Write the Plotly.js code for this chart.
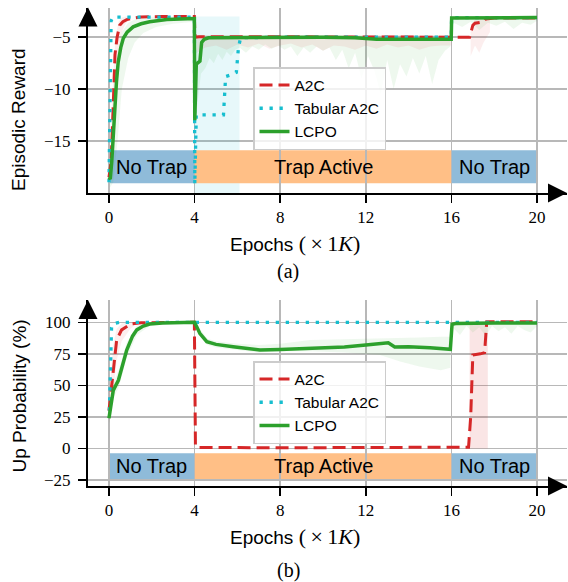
<!DOCTYPE html>
<html>
<head>
<meta charset="utf-8">
<script src="https://cdn.plot.ly/plotly-3.0.1.min.js"></script>
<style>html,body{margin:0;padding:0;background:#fff;}#chart{width:568px;height:582px;}</style>
</head>
<body>
<div id="chart"></div>
<script>
// ---------- phases ----------
const phaseStart = [0, 4, 16];
const phaseEnd = [4, 16, 20];
const phaseLabel = ['No Trap', 'Trap Active', 'No Trap'];

// ---------- (a) Episodic reward ----------
const a2cRX = [0, 0.1, 0.2, 0.28, 0.38, 0.5, 0.65, 0.83, 1.1, 1.5, 2.5, 3.99, 4.02, 4.2, 6, 8, 10, 11.5, 12, 14, 15.99, 16.85, 17.0, 17.1, 17.5, 17.6, 18, 20];
const a2cRY = [-18.5, -17, -11.5, -6.7, -5, -3.85, -3.5, -3.3, -3.15, -3.05, -3.0, -3.0, -5.0, -4.95, -4.95, -4.95, -4.95, -5.0, -4.95, -4.95, -4.95, -5.0, -3.85, -3.65, -3.5, -3.25, -3.15, -3.15];

const tabRX = [0, 0.06, 0.1, 0.2, 3.99, 4.01, 4.08, 5.35, 5.45, 5.75, 5.95, 6.05, 6.15, 8, 12, 15.99, 16.01, 20];
const tabRY = [-19, -5, -3.4, -3.05, -3.05, -19.2, -12.5, -12.5, -8.8, -8.6, -8.4, -6.0, -5.05, -5.0, -5.0, -5.0, -3.1, -3.1];

const lcpoRX = [0, 0.06, 0.13, 0.2, 0.28, 0.35, 0.43, 0.55, 0.67, 0.85, 1.13, 1.5, 1.9, 2.7, 3.99, 4.01, 4.08, 4.25, 4.33, 4.45, 4.65, 6, 8, 10, 11.5, 12.5, 14, 15.99, 16.01, 18, 20];
const lcpoRY = [-18.5, -18.7, -17, -14, -11.5, -9.3, -7.4, -6, -5.1, -4.5, -4.0, -3.7, -3.5, -3.3, -3.2, -13, -7.6, -7.3, -5.5, -5.2, -5.05, -5.02, -5.0, -5.0, -5.05, -5.2, -5.2, -5.2, -3.15, -3.1, -3.1];

// variability (shaded) in (a)
const lcpoR0X = [0.05, 0.2, 0.4, 0.6, 0.9, 1.2, 1.6, 2.2, 3.0, 4.0];
const lcpoR0Lo = [-19.5, -19, -15, -10, -7, -5.5, -4.6, -4.0, -3.7, -3.5];
const lcpoR0Hi = [-17, -12, -7, -4.5, -3.6, -3.3, -3.1, -3.0, -3.0, -3.0];
const a2cR0X = [0.05, 0.15, 0.3, 0.45, 0.6, 0.8, 1.0];
const a2cR0Lo = [-19, -17, -11, -6.5, -4.5, -3.6, -3.3];
const a2cR0Hi = [-17, -11, -5, -3.5, -3.1, -3.0, -3.0];
const tabRBandX = [4.0, 6.1];
const tabRBandLo = [-15.9, -15.9];
const tabRBandHi = [-3.0, -3.0];
const tabRBand2Lo = [-20.5, -20.5];
const tabRBand2Hi = [-19.1, -19.1];
const lcpoRMidX = [4.1, 4.3, 4.5, 4.7, 4.9, 5.1, 5.3, 5.5, 5.7, 5.9, 6.1, 6.4, 6.7, 7.0, 7.3, 7.6, 7.9, 8.2, 8.5, 8.8, 9.1, 9.4, 9.7, 10.0, 10.3, 10.6, 10.9, 11.2, 11.5, 11.8, 12.1, 12.4, 12.7, 13.0, 13.3, 13.6, 13.9, 14.2, 14.5, 14.8, 15.1, 15.4, 15.7, 15.95];
const lcpoRMidLo = [-12, -8.5, -8, -7, -7.5, -6.6, -7.2, -6.4, -6.8, -6.2, -6.0, -6.5, -5.9, -6.2, -5.7, -6.1, -5.8, -6.2, -5.9, -6.8, -6.0, -6.5, -5.9, -6.3, -6.0, -7.2, -6.2, -8.0, -6.5, -9.0, -6.8, -8.2, -10.5, -7.2, -10.0, -7.6, -8.8, -7.0, -8.5, -6.8, -9.5, -7.2, -6.3, -5.9];
const lcpoRMidHi = [-4.8, -4.8, -4.8, -4.8, -4.8, -4.8, -4.8, -4.8, -4.8, -4.8, -4.8, -4.8, -4.8, -4.8, -4.8, -4.8, -4.8, -4.8, -4.8, -4.8, -4.8, -4.8, -4.8, -4.8, -4.8, -4.8, -4.8, -4.8, -4.8, -4.8, -4.8, -4.8, -4.8, -4.8, -4.8, -4.8, -4.8, -4.8, -4.8, -4.8, -4.8, -4.8, -4.8, -4.8];
const a2cRMidX = [4.1, 4.5, 5, 5.5, 6, 6.5, 7, 7.5, 8, 8.5, 9, 9.5, 10, 10.5, 11, 11.5, 12, 12.5, 13, 13.5, 14, 14.5, 15, 15.5, 16];
const a2cRMidLo = [-6.5, -6, -5.8, -6.2, -5.7, -6, -5.6, -6.1, -5.8, -5.6, -6.0, -5.7, -6.3, -5.8, -5.9, -6.2, -5.8, -6.1, -5.7, -6, -5.8, -6.2, -5.9, -5.8, -5.8];
const a2cRMidHi = [-4.8, -4.8, -4.8, -4.8, -4.8, -4.8, -4.8, -4.8, -4.8, -4.8, -4.8, -4.8, -4.8, -4.8, -4.8, -4.8, -4.8, -4.8, -4.8, -4.8, -4.8, -4.8, -4.8, -4.8, -4.8];
const a2cRLateX = [16.9, 17.1, 17.3, 17.5, 17.8];
const a2cRLateLo = [-6.8, -5.8, -6.5, -5.5, -4.5];
const a2cRLateHi = [-4.5, -3.2, -3.0, -3.0, -3.0];
const lcpoRLateX = [16.1, 16.5, 16.9, 17.3, 17.7, 18.1, 18.5, 18.9, 19.3, 19.7, 20];
const lcpoRLateLo = [-3.6, -4.0, -3.5, -4.3, -3.6, -3.9, -3.5, -4.2, -3.6, -3.8, -3.4];
const lcpoRLateHi = [-3.0, -3.0, -3.0, -3.0, -3.0, -3.0, -3.0, -3.0, -3.0, -3.0, -3.0];

// ---------- (b) Up probability ----------
const a2cPX = [0, 0.1, 0.2, 0.36, 0.59, 1.0, 1.5, 3.99, 4.04, 4.15, 8, 12, 16, 16.8, 16.9, 17.0, 17.35, 17.55, 17.65, 18, 20];
const a2cPY = [30, 45, 65, 86, 94, 98.6, 99.6, 100, 2, 0.8, 0.5, 0.5, 0.5, 1, 25, 74, 75, 76, 100.5, 100.5, 100.5];

const tabPX = [0.02, 0.06, 0.12, 0.2, 0.5, 20];
const tabPY = [30, 60, 96, 99, 100, 100];

const lcpoPX = [0, 0.2, 0.44, 0.83, 1.1, 1.3, 1.6, 1.9, 2.5, 3.99, 4.1, 4.25, 4.57, 5.0, 5.8, 7.05, 8, 9, 10, 11, 12, 13.05, 13.35, 14, 15, 15.95, 16.03, 16.2, 18, 20];
const lcpoPY = [24, 46, 54, 78, 89, 94, 97, 98.6, 99.5, 100, 96.5, 91, 84.6, 82.5, 80.7, 78, 78.5, 79, 79.5, 80.5, 82, 83.8, 80.4, 80.7, 79.8, 78.6, 98.5, 99, 99.5, 99.5];

const a2cP0X = [0, 0.1, 0.2, 0.36, 0.59, 1.0, 1.3];
const a2cP0Lo = [20, 30, 45, 70, 85, 95, 99];
const a2cP0Hi = [40, 62, 82, 95, 99, 100, 100];
const lcpoP0X = [0, 0.2, 0.45, 0.83, 1.3, 1.9, 2.5];
const lcpoP0Lo = [20, 40, 48, 72, 90, 97, 99];
const lcpoP0Hi = [28, 52, 62, 84, 97, 100, 100];
const lcpoPMidX = [4.1, 4.6, 5, 6, 7, 8, 9.4, 11, 12.66, 13.6, 14.5, 15.5, 15.95];
const lcpoPMidLo = [94, 82, 80, 78, 76, 77, 77, 76, 74, 69, 65, 62, 64];
const lcpoPMidHi = [98, 87, 85, 83, 82, 83, 86, 86.5, 87, 87.5, 88, 88.5, 88.5];
const a2cPLateX = [16.85, 17.7];
const a2cPLateLo = [0, 0];
const a2cPLateHi = [100.5, 100.5];
const lcpoPLateX = [16.05, 16.4, 16.7, 17.0, 17.3, 17.6, 17.9, 18.2, 18.5, 18.8, 19.1, 19.4, 19.7, 20];
const lcpoPLateLo = [96, 90, 97, 92, 96, 89, 97, 93, 96, 91, 97, 94, 92, 97];
const lcpoPLateHi = [100.5, 100.5, 100.5, 100.5, 100.5, 100.5, 100.5, 100.5, 100.5, 100.5, 100.5, 100.5, 100.5, 100.5];

const seriesNames = ['A2C', 'Tabular A2C', 'LCPO'];

// ---------- styling ----------
const RED = '#d62728', CYAN = '#17becf', GREEN = '#2ca02c';
const SANS = 'Liberation Sans, Arial, sans-serif';
const SERIF = 'Liberation Serif, Times New Roman, serif';
const W = 568, H = 582;
const xRange = [-0.98, 21.4];
const yRangeA = [-20.03, -2.13];
const yRangeB = [-29.8, 117.7];
const xDom = [88 / W, 567 / W];
const yDomA = [1 - 193 / H, 1 - 7.5 / H];
const yDomB = [1 - 486 / H, 1 - 300 / H];

function band(x, lo, hi, color, xa, ya) {
  return {
    x: x.concat(x.slice().reverse()), y: hi.concat(lo.slice().reverse()),
    fill: 'toself', fillcolor: color, mode: 'lines', line: {width: 0},
    hoverinfo: 'skip', showlegend: false, xaxis: xa, yaxis: ya
  };
}
function line(x, y, name, color, dash, width, xa, ya, leg) {
  return {
    x: x, y: y, name: name, mode: 'lines', line: {color: color, dash: dash, width: width},
    xaxis: xa, yaxis: ya, legend: leg, showlegend: true
  };
}

const gR = 'rgba(44,160,44,0.08)', rR = 'rgba(214,39,40,0.08)', cR = 'rgba(23,190,207,0.10)';
const traces = [
  band(lcpoR0X, lcpoR0Lo, lcpoR0Hi, gR, 'x', 'y'),
  band(a2cR0X, a2cR0Lo, a2cR0Hi, rR, 'x', 'y'),
  band(tabRBandX, tabRBandLo, tabRBandHi, cR, 'x', 'y'),
  band(tabRBandX, tabRBand2Lo, tabRBand2Hi, cR, 'x', 'y'),
  band(lcpoRMidX, lcpoRMidLo, lcpoRMidHi, gR, 'x', 'y'),
  band(a2cRMidX, a2cRMidLo, a2cRMidHi, rR, 'x', 'y'),
  band(a2cRLateX, a2cRLateLo, a2cRLateHi, rR, 'x', 'y'),
  band(lcpoRLateX, lcpoRLateLo, lcpoRLateHi, gR, 'x', 'y'),
  band(a2cP0X, a2cP0Lo, a2cP0Hi, rR, 'x2', 'y2'),
  band(lcpoP0X, lcpoP0Lo, lcpoP0Hi, gR, 'x2', 'y2'),
  band(lcpoPMidX, lcpoPMidLo, lcpoPMidHi, gR, 'x2', 'y2'),
  band(a2cPLateX, a2cPLateLo, a2cPLateHi, 'rgba(214,39,40,0.12)', 'x2', 'y2'),
  band(lcpoPLateX, lcpoPLateLo, lcpoPLateHi, gR, 'x2', 'y2'),
  line(a2cRX, a2cRY, seriesNames[0], RED, '13px,6px', 3, 'x', 'y', 'legend'),
  line(tabRX, tabRY, seriesNames[1], CYAN, '3.3px,6.7px', 3.3, 'x', 'y', 'legend'),
  line(lcpoRX, lcpoRY, seriesNames[2], GREEN, 'solid', 3.5, 'x', 'y', 'legend'),
  line(a2cPX, a2cPY, seriesNames[0], RED, '13px,6px', 3, 'x2', 'y2', 'legend2'),
  line(tabPX, tabPY, seriesNames[1], CYAN, '3.3px,6.7px', 3.3, 'x2', 'y2', 'legend2'),
  line(lcpoPX, lcpoPY, seriesNames[2], GREEN, 'solid', 3.5, 'x2', 'y2', 'legend2')
];
// axis arrow heads
[['x', 'y', yRangeA], ['x2', 'y2', yRangeB]].forEach(function (a) {
  traces.push({x: [xRange[0]], y: [a[2][1]], mode: 'markers', marker: {symbol: 'arrow-up', size: 19, color: 'black'},
    cliponaxis: false, hoverinfo: 'skip', showlegend: false, xaxis: a[0], yaxis: a[1]});
  traces.push({x: [xRange[1]], y: [a[2][0]], mode: 'markers', marker: {symbol: 'arrow-right', size: 19, color: 'black'},
    cliponaxis: false, hoverinfo: 'skip', showlegend: false, xaxis: a[0], yaxis: a[1]});
});

const xTicks = [0, 4, 8, 12, 16, 20];
function xAxis(anchor) {
  return {domain: xDom, range: xRange, anchor: anchor, tickvals: xTicks, ticktext: xTicks.map(String),
    showline: true, linecolor: 'black', linewidth: 2, ticks: 'outside', ticklen: 8, tickwidth: 1.5, tickcolor: 'black',
    showgrid: true, gridcolor: '#b8b8b8', gridwidth: 1.5, zeroline: false,
    tickfont: {family: SERIF, size: 17, color: 'black'}, fixedrange: true};
}
function yAxis(anchor, dom, rng, ticks) {
  return {domain: dom, range: rng, anchor: anchor, tickvals: ticks,
    showline: true, linecolor: 'black', linewidth: 2, ticks: 'outside', ticklen: 8, tickwidth: 1.5, tickcolor: 'black',
    showgrid: true, gridcolor: '#b8b8b8', gridwidth: 1.5, zeroline: false, ticklabelstandoff: 4,
    tickfont: {family: SERIF, size: 17, color: 'black'}, fixedrange: true};
}

const bandColors = ['rgba(31,119,180,0.5)', 'rgba(255,127,14,0.5)', 'rgba(31,119,180,0.5)'];
const shapes = [], annotations = [];
[['x', 'y', -19.1, -15.9], ['x2', 'y2', -24.4, -3.8]].forEach(function (s) {
  for (let i = 0; i < phaseStart.length; i++) {
    shapes.push({type: 'rect', xref: s[0], yref: s[1], x0: phaseStart[i], x1: phaseEnd[i], y0: s[2], y1: s[3],
      fillcolor: bandColors[i], line: {width: 0}, layer: 'below'});
    annotations.push({xref: s[0], yref: s[1], x: (phaseStart[i] + phaseEnd[i]) / 2, y: (s[2] + s[3]) / 2,
      text: phaseLabel[i], showarrow: false, font: {family: SANS, size: 20, color: 'black'}});
  }
});
function paperText(txt, px, py, size, fam, angle) {
  return {xref: 'paper', yref: 'paper', x: px / W, y: 1 - py / H, xanchor: 'center', yanchor: 'middle',
    text: txt, showarrow: false, textangle: angle || 0, font: {family: fam, size: size, color: 'black'}};
}
const xTitle = 'Epochs <span style="font-family:Liberation Serif;font-size:22px">(\u2009×\u20091<i>K</i>)</span>';
annotations.push(paperText('Episodic Reward', 18.5, 119.5, 19, SANS, -90));
annotations.push(paperText('Up Probability (%)', 18.5, 396, 19, SANS, -90));
annotations.push(paperText(xTitle, 295, 243, 19, SANS));
annotations.push(paperText(xTitle, 295, 536, 19, SANS));
annotations.push(paperText('(a)', 288, 271, 20, SERIF));
annotations.push(paperText('(b)', 288, 570, 20, SERIF));

function legendCfg(topPx) {
  return {x: 253 / W, y: 1 - topPx / H, xanchor: 'left', yanchor: 'top', bgcolor: 'rgba(255,255,255,0.8)',
    bordercolor: '#cccccc', borderwidth: 1.5, font: {family: SANS, size: 15.5, color: 'black'},
    itemwidth: 30, tracegroupgap: 0};
}

const layout = {
  width: W, height: H, margin: {l: 0, r: 0, t: 0, b: 0},
  paper_bgcolor: 'white', plot_bgcolor: 'white',
  xaxis: xAxis('y'), yaxis: yAxis('x', yDomA, yRangeA, [-5, -10, -15]),
  xaxis2: xAxis('y2'), yaxis2: yAxis('x2', yDomB, yRangeB, [100, 75, 50, 25, 0, -25]),
  legend: legendCfg(67), legend2: legendCfg(361),
  shapes: shapes, annotations: annotations, hovermode: false
};
Plotly.newPlot('chart', traces, layout, {displayModeBar: false, staticPlot: true});
</script>
</body>
</html>
